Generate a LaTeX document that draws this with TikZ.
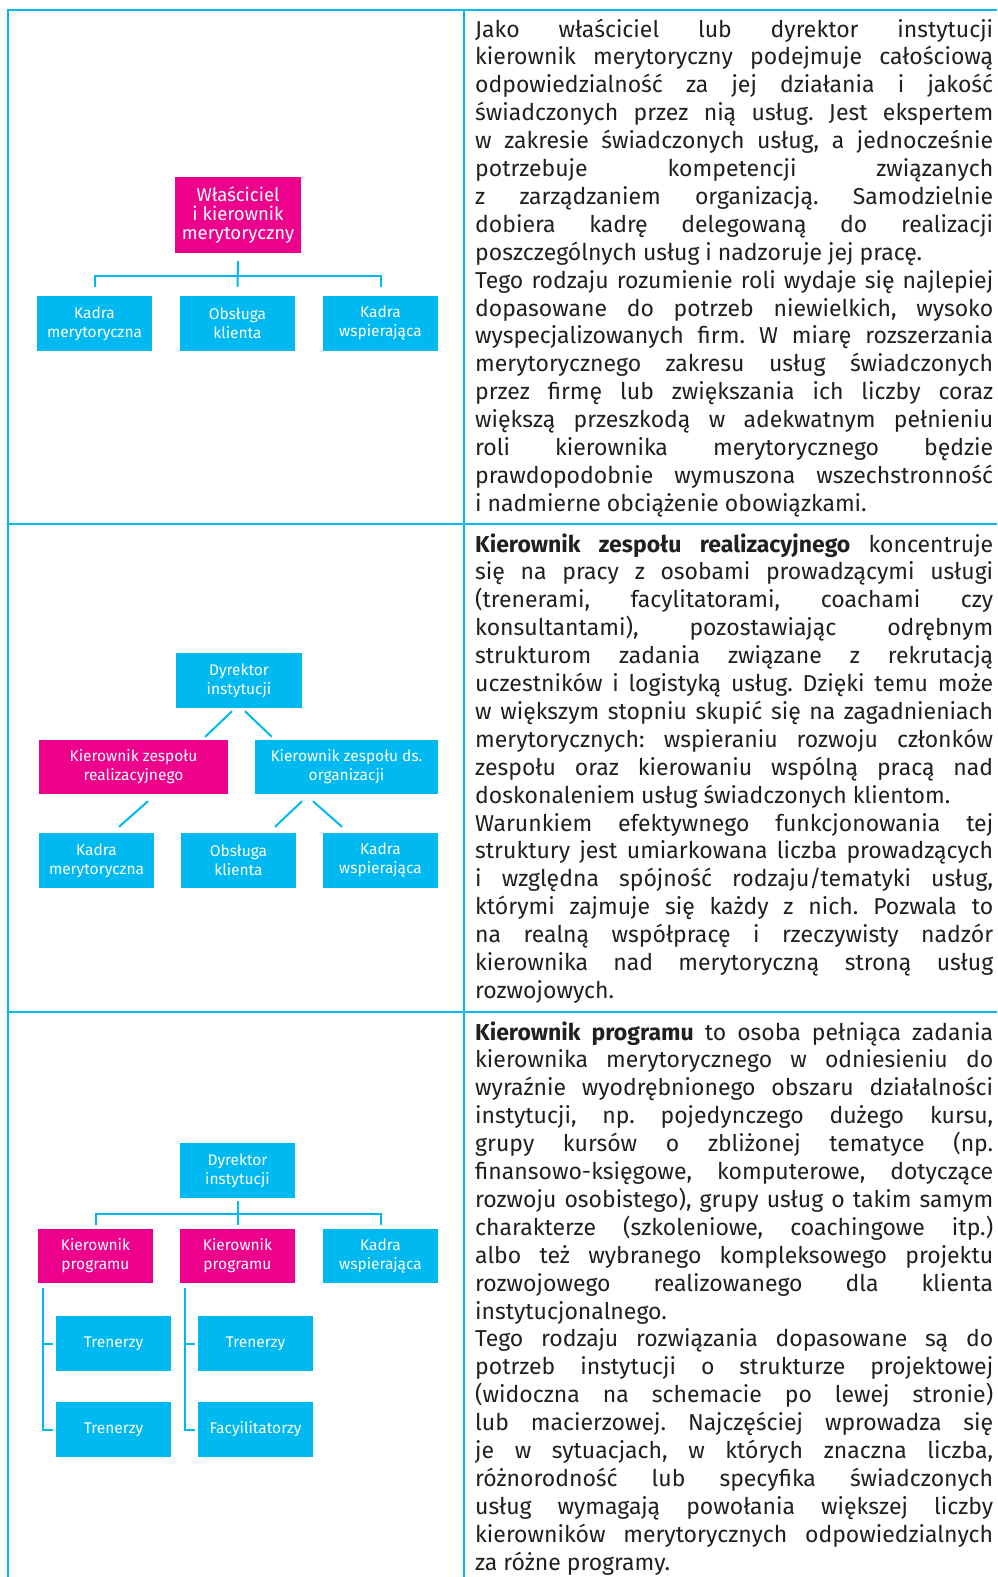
\documentclass[tikz,border=0pt]{standalone}
\usepackage{fontspec}
\setmainfont{Fira Sans}
\definecolor{cyanbox}{RGB}{0,185,240}
\definecolor{magbox}{RGB}{236,0,140}
\definecolor{bodytext}{RGB}{35,31,32}
\newlength{\colw}
\setlength{\colw}{518pt}
\newcommand{\jline}[1]{\hbox to \colw{#1}}
\newcommand{\lline}[1]{\hbox to \colw{#1\hfil}}
\newcommand{\bodyfont}{\fontsize{23}{27.9}\selectfont\frenchspacing\spaceskip=.26em plus 2em minus .12em\color{bodytext}}
\tikzset{
    cbox/.style={fill=cyanbox, text=white, align=center, inner sep=0pt,
        minimum width=115pt, minimum height=55pt,
        font=\fontsize{15.5}{19}\selectfont},
    mbox/.style={cbox, fill=magbox},
    link/.style={draw=cyanbox, line width=2pt},
    grid/.style={draw=cyanbox, line width=2pt},
    para/.style={anchor=base west, inner sep=0pt, font=\bodyfont}
}
\begin{document}
\begin{tikzpicture}[x=1pt, y=-1pt]
            \fill[white] (0,0) rectangle (997,1577);
            \useasboundingbox (0,0) rectangle (997,1577);

            \draw[grid] (997,10) -- (8,10) -- (8,1577);
            \draw[grid] (464,10) -- (464,1577);
            \foreach \y in {524,1012}
                \draw[grid] (8,\y) -- (997,\y);

            % owner and manager
            \node (w1) at (238,215)[mbox, minimum width=126pt, minimum height=76pt,
                font=\fontsize{18.5}{19.3}\selectfont]{Właściciel\\i kierownik\\merytoryczny};
            \foreach \x/\t/\n in {94.5/{Kadra\\merytoryczna}/k1, 237.5/{Obsługa\\klienta}/k2, 380.5/{Kadra\\wspierająca}/k3}
                \node (\n) at (\x,323.5)[cbox]{\t};
            \draw[link] ([yshift=-8pt]w1.south) -- ([yshift=9pt]k2.north);
            \draw[link] ([yshift=9pt]k1.north) |- ([yshift=20pt]k2.north) -| ([yshift=9pt]k3.north);

            % team managers
            \node (d2) at (239,680.5)[cbox, minimum width=126pt]{Dyrektor\\instytucji};
            \node (z1) at (133.5,767)[mbox, minimum width=189pt, minimum height=54pt]{Kierownik zespołu\\realizacyjnego};
            \node (z2) at (346.5,767)[cbox, minimum width=183pt, minimum height=54pt]{Kierownik zespołu ds.\\organizacji};
            \foreach \x/\t/\n in {96.5/{Kadra\\merytoryczna}/b1, 238.5/{Obsługa\\klienta}/b2, 380.5/{Kadra\\wspierająca}/b3}
                \node (\n) at (\x,860.5)[cbox]{\t};
            \draw[link] ([xshift=-7pt,yshift=-3pt]d2.south) -- ([xshift=-23pt,yshift=3pt]z1.north east);
            \draw[link] ([xshift=6pt,yshift=-3pt]d2.south) -- ([xshift=17pt,yshift=3pt]z2.north west);
            \draw[link] ([xshift=14.5pt,yshift=-7pt]z1.south) -- ([xshift=22.5pt,yshift=6pt]b1.north);
            \draw[link] ([xshift=-44.5pt,yshift=-7pt]z2.south) -- ([xshift=36.5pt,yshift=6pt]b2.north);
            \draw[link] ([xshift=-33.5pt,yshift=-7pt]z2.south) -- ([xshift=-38.5pt,yshift=6pt]b3.north);

            % programme managers
            \node (d3) at (237.5,1170.5)[cbox]{Dyrektor\\instytucji};
            \node (p1) at (95.5,1256)[mbox, minimum height=54pt]{Kierownik\\programu};
            \node (p2) at (237.5,1256)[mbox, minimum height=54pt]{Kierownik\\programu};
            \node (p3) at (380.5,1256)[cbox, minimum height=54pt]{Kadra\\wspierająca};
            \node (r1) at (113.5,1343.5)[cbox]{Trenerzy};
            \node (r2) at (113.5,1429.5)[cbox]{Trenerzy};
            \node (r3) at (255.5,1343.5)[cbox]{Trenerzy};
            \node (r4) at (255.5,1429.5)[cbox]{Facyilitatorzy};
            \draw[link] ([yshift=-3pt]d3.south) -- ([yshift=4pt]p2.north);
            \draw[link] ([yshift=4pt]p1.north) |- ([yshift=15pt]p2.north) -| ([yshift=4pt]p3.north);
            \draw[link] ([xshift=5pt,yshift=-5pt]p1.south west) |- ([xshift=-3pt]r2.west);
            \draw[link] ([xshift=-3pt]r1.west) -- ([xshift=5pt]p1.south west |- r1.west);
            \draw[link] ([xshift=5pt,yshift=-5pt]p2.south west) |- ([xshift=-3pt]r4.west);
            \draw[link] ([xshift=-3pt]r3.west) -- ([xshift=5pt]p2.south west |- r3.west);

            \node (t1) at (475,37)[para]{\vtop{%
                \jline{Jako właściciel lub dyrektor instytucji}
                \jline{kierownik merytoryczny podejmuje całościową}
                \jline{odpowiedzialność za jej działania i jakość}
                \jline{świadczonych przez nią usług. Jest ekspertem}
                \jline{w zakresie świadczonych usług, a jednocześnie}
                \jline{potrzebuje kompetencji związanych}
                \jline{z zarządzaniem organizacją. Samodzielnie}
                \jline{dobiera kadrę delegowaną do realizacji}
                \lline{poszczególnych usług i nadzoruje jej pracę.}
                \jline{Tego rodzaju rozumienie roli wydaje się najlepiej}
                \jline{dopasowane do potrzeb niewielkich, wysoko}
                \jline{wyspecjalizowanych firm. W miarę rozszerzania}
                \jline{merytorycznego zakresu usług świadczonych}
                \jline{przez firmę lub zwiększania ich liczby coraz}
                \jline{większą przeszkodą w adekwatnym pełnieniu}
                \jline{roli kierownika merytorycznego będzie}
                \jline{prawdopodobnie wymuszona wszechstronność}
                \lline{i nadmierne obciążenie obowiązkami.}}};

            \node (t2) at (475,552)[para]{\vtop{%
                \jline{\textbf{Kierownik zespołu realizacyjnego} koncentruje}
                \jline{się na pracy z osobami prowadzącymi usługi}
                \jline{(trenerami, facylitatorami, coachami czy}
                \jline{konsultantami), pozostawiając odrębnym}
                \jline{strukturom zadania związane z rekrutacją}
                \jline{uczestników i logistyką usług. Dzięki temu może}
                \jline{w większym stopniu skupić się na zagadnieniach}
                \jline{merytorycznych: wspieraniu rozwoju członków}
                \jline{zespołu oraz kierowaniu wspólną pracą nad}
                \lline{doskonaleniem usług świadczonych klientom.}
                \jline{Warunkiem efektywnego funkcjonowania tej}
                \jline{struktury jest umiarkowana liczba prowadzących}
                \jline{i względna spójność rodzaju/tematyki usług,}
                \jline{którymi zajmuje się każdy z nich. Pozwala to}
                \jline{na realną współpracę i rzeczywisty nadzór}
                \jline{kierownika nad merytoryczną stroną usług}
                \lline{rozwojowych.}}};

            \node (t3) at (475,1040)[para]{\vtop{%
                \jline{\textbf{Kierownik programu} to osoba pełniąca zadania}
                \jline{kierownika merytorycznego w odniesieniu do}
                \jline{wyraźnie wyodrębnionego obszaru działalności}
                \jline{instytucji, np. pojedynczego dużego kursu,}
                \jline{grupy kursów o zbliżonej tematyce (np.}
                \jline{finansowo-księgowe, komputerowe, dotyczące}
                \jline{rozwoju osobistego), grupy usług o takim samym}
                \jline{charakterze (szkoleniowe, coachingowe itp.)}
                \jline{albo też wybranego kompleksowego projektu}
                \jline{rozwojowego realizowanego dla klienta}
                \lline{instytucjonalnego.}
                \jline{Tego rodzaju rozwiązania dopasowane są do}
                \jline{potrzeb instytucji o strukturze projektowej}
                \jline{(widoczna na schemacie po lewej stronie)}
                \jline{lub macierzowej. Najczęściej wprowadza się}
                \jline{je w sytuacjach, w których znaczna liczba,}
                \jline{różnorodność lub specyfika świadczonych}
                \jline{usług wymagają powołania większej liczby}
                \jline{kierowników merytorycznych odpowiedzialnych}
                \lline{za różne programy.}}};
        \end{tikzpicture}
\end{document}
